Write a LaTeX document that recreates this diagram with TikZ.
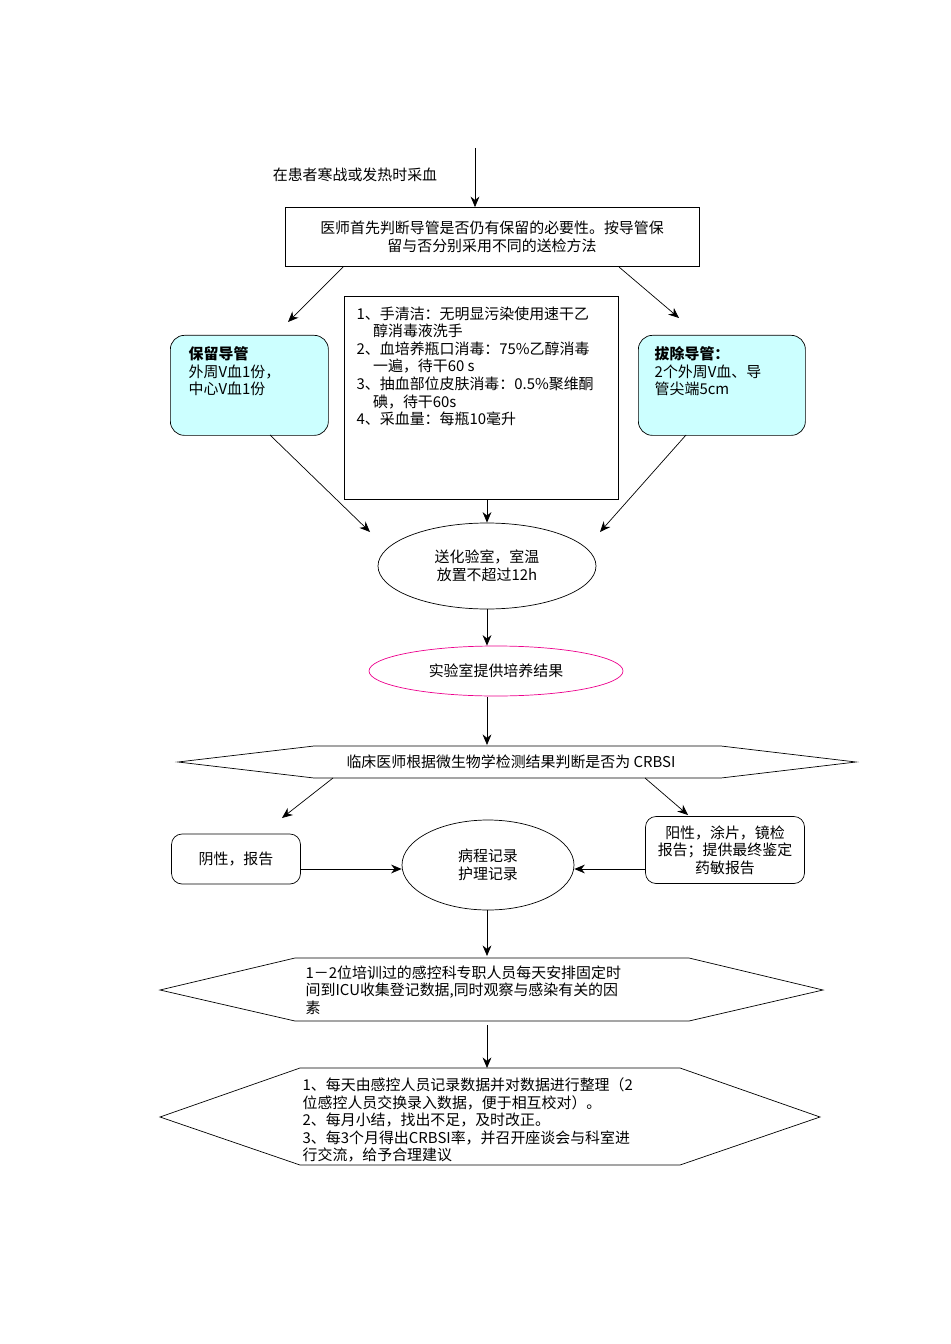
\documentclass[tikz,border=0pt]{standalone}
\usepackage{fontspec}
\setmainfont{Noto Sans CJK SC}
\usetikzlibrary{shapes.geometric,arrows.meta}
\definecolor{paleblue}{RGB}{204,255,255}
\begin{document}
\begin{tikzpicture}[x=0.02cm,y=-0.02cm,>={Stealth[length=6pt,width=5pt]},thick,
  every node/.style={font=\fontsize{8.5}{10}\selectfont},
  box/.style={draw,thin,align=center,inner sep=2pt},
  soft/.style={draw,thin,rounded corners=8pt,fill=paleblue,align=left,anchor=north west,inner sep=2pt},
  round/.style={draw,thin,rounded corners=6pt,align=center},
  oval/.style={draw,thin,ellipse,align=center},
  flow/.style={->,thin}]
\useasboundingbox (0,0) rectangle (950,1344);
% top
\coordinate (start) at (475,148);
\node (lab) at (355,175) {在患者寒战或发热时采血};
\node[box,minimum width=414*0.02cm,minimum height=59*0.02cm] (v1) at (492,237) {医师首先判断导管是否仍有保留的必要性。按导管保\\留与否分别采用不同的送检方法};
\draw[flow] (start) -- (v1.north -| start);
% middle row
\node[box,minimum width=274*0.02cm,minimum height=203*0.02cm] (v2) at (481,398) {};
\node[align=left,anchor=north west,inner sep=0pt] at (356,306) {1、手清洁：无明显污染使用速干乙\\\hspace{1.1em}醇消毒液洗手\\2、血培养瓶口消毒：75\%乙醇消毒\\\hspace{1.1em}一遍，待干60 s\\3、抽血部位皮肤消毒：0.5\%聚维酮\\\hspace{1.1em}碘，待干60s\\4、采血量：每瓶10毫升};
\node[soft,minimum width=158*0.02cm,minimum height=100*0.02cm] (v3) at (170,335) {};
\node[align=left,anchor=north west,inner sep=0pt] at (188,346) {\textbf{保留导管}\\外周V血1份，\\中心V血1份};
\node[soft,minimum width=167*0.02cm,minimum height=100*0.02cm] (v4) at (638,335) {};
\node[align=left,anchor=north west,inner sep=0pt] at (654,346) {\textbf{拔除导管：}\\2个外周V血、导\\管尖端5cm};
\coordinate (a1) at (343,267); \coordinate (a2) at (288,322);
\coordinate (b1) at (619,267); \coordinate (b2) at (679,318);
\draw[flow] (a1) -- (a2);
\draw[flow] (b1) -- (b2);
% lab
\node[oval,minimum width=218*0.02cm,minimum height=86*0.02cm] (v5) at (487,566) {送化验室，室温\\放置不超过12h};
\coordinate (c1) at (270,435); \coordinate (c2) at (370,532);
\coordinate (d1) at (686,435); \coordinate (d2) at (600,532);
\draw[flow] (c1) -- (c2);
\draw[flow] (d1) -- (d2);
\draw[flow] (v2.south -| v5) -- (v5.north);
\node[oval,draw=magenta,minimum width=254*0.02cm,minimum height=50*0.02cm] (v6) at (496,671) {实验室提供培养结果};
\draw[flow] (v5.south) -- (v5.south |- v6.north);
% judge
\draw[thin] (178,762) -- (314,746) -- (721,746) -- (856,762) -- (721,778) -- (314,778) -- cycle;
\node (v7) at (511,762) {临床医师根据微生物学检测结果判断是否为 CRBSI};
\coordinate (v7n) at (487,745); \coordinate (v7s) at (487,778);
\draw[flow] (487,697) -- (v7n);
\coordinate (e1) at (333,778); \coordinate (e2) at (282,818);
\coordinate (f1) at (645,778); \coordinate (f2) at (688,815);
\draw[flow] (e1) -- (e2);
\draw[flow] (f1) -- (f2);
% results
\node[round,minimum width=129*0.02cm,minimum height=50*0.02cm] (v8) at (236,859) {阴性，报告};
\node[oval,minimum width=172*0.02cm,minimum height=90*0.02cm] (v9) at (488,865) {病程记录\\护理记录};
\node[round,minimum width=159*0.02cm,minimum height=67*0.02cm] (v10) at (725,850) {阳性，涂片，镜检\\报告；提供最终鉴定\\药敏报告};
\draw[flow] (v8.east |- 0,869) -- (v9.west |- 0,869);
\draw[flow] (v10.west |- 0,869) -- (v9.east |- 0,869);
% collect
\draw[thin] (160,990) -- (295,958) -- (689,958) -- (823,990) -- (689,1021) -- (295,1021) -- cycle;
\node[align=left,anchor=north west,inner sep=0pt] (v11) at (305,965) {1－2位培训过的感控科专职人员每天安排固定时\\间到ICU收集登记数据,同时观察与感染有关的因\\素};
\draw[flow] (v9.south -| 487,0) -- (487,956);
% summary
\draw[thin] (160,1117) -- (300,1068) -- (680,1068) -- (820,1117) -- (680,1165) -- (300,1165) -- cycle;
\node[align=left,anchor=north west,inner sep=0pt] (v12) at (302,1077) {1、每天由感控人员记录数据并对数据进行整理（2\\位感控人员交换录入数据，便于相互校对）。\\2、每月小结，找出不足，及时改正。\\3、每3个月得出CRBSI率，并召开座谈会与科室进\\行交流，给予合理建议};
\draw[flow] (487,1025) -- (487,1068);
\end{tikzpicture}
\end{document}
